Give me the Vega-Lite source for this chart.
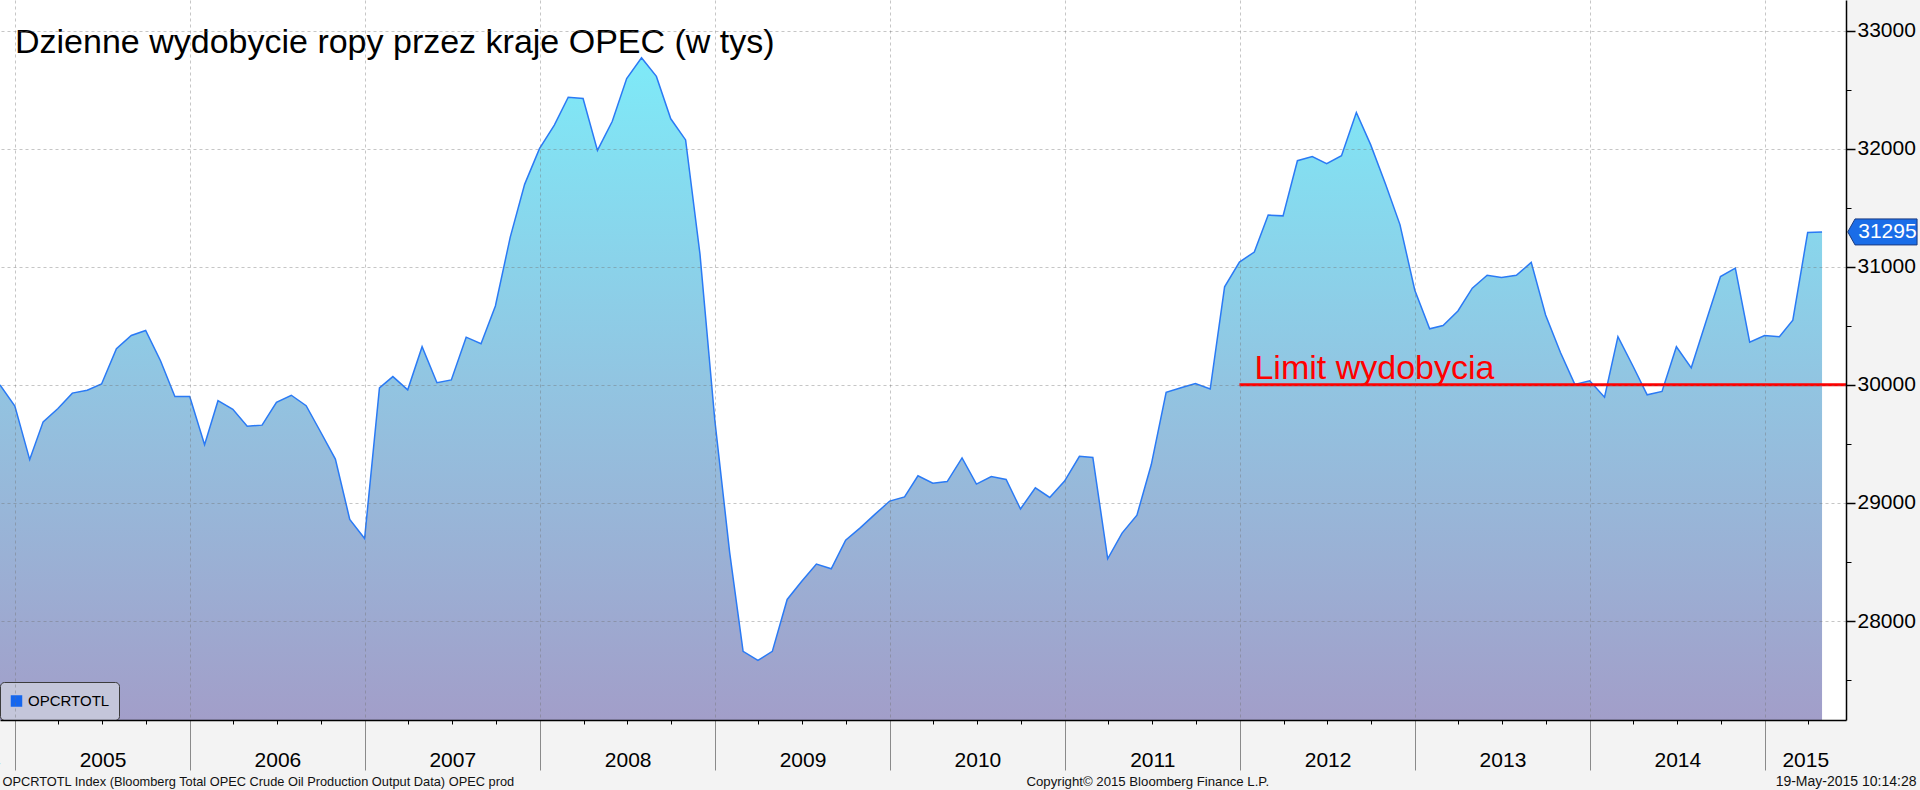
{
  "$schema": "https://vega.github.io/schema/vega-lite/v6.json",
  "width": 1846,
  "height": 720,
  "autosize": {"type": "none"},
  "padding": {"left": 0, "top": 0, "right": 74, "bottom": 70},
  "config": {
    "background": "#f3f3f3",
    "view": {"fill": "white", "stroke": null},
    "font": "Liberation Sans"
  },
  "title": {
    "text": "Dzienne wydobycie ropy przez kraje OPEC (w tys)",
    "anchor": "start",
    "frame": "group",
    "orient": "top",
    "offset": 0,
    "baseline": "alphabetic",
    "dx": 15,
    "dy": 87,
    "font": "Liberation Sans",
    "fontSize": 34,
    "fontWeight": "normal",
    "color": "black"
  },
  "datasets": {
    "opec": [
      {"date": "2004-11-30", "value": 30000},
      {"date": "2004-12-31", "value": 29821},
      {"date": "2005-01-31", "value": 29367},
      {"date": "2005-02-28", "value": 29687},
      {"date": "2005-03-31", "value": 29800},
      {"date": "2005-04-30", "value": 29930},
      {"date": "2005-05-31", "value": 29954},
      {"date": "2005-06-30", "value": 30007},
      {"date": "2005-07-31", "value": 30306},
      {"date": "2005-08-31", "value": 30418},
      {"date": "2005-09-30", "value": 30460},
      {"date": "2005-10-31", "value": 30204},
      {"date": "2005-11-30", "value": 29902},
      {"date": "2005-12-31", "value": 29902},
      {"date": "2006-01-31", "value": 29494},
      {"date": "2006-02-28", "value": 29866},
      {"date": "2006-03-31", "value": 29793},
      {"date": "2006-04-30", "value": 29649},
      {"date": "2006-05-31", "value": 29659},
      {"date": "2006-06-30", "value": 29852},
      {"date": "2006-07-31", "value": 29912},
      {"date": "2006-08-31", "value": 29824},
      {"date": "2006-09-30", "value": 29603},
      {"date": "2006-10-31", "value": 29371},
      {"date": "2006-11-30", "value": 28861},
      {"date": "2006-12-31", "value": 28699},
      {"date": "2007-01-31", "value": 29975},
      {"date": "2007-02-28", "value": 30070},
      {"date": "2007-03-31", "value": 29958},
      {"date": "2007-04-30", "value": 30323},
      {"date": "2007-05-31", "value": 30018},
      {"date": "2007-06-30", "value": 30042},
      {"date": "2007-07-31", "value": 30404},
      {"date": "2007-08-31", "value": 30348},
      {"date": "2007-09-30", "value": 30668},
      {"date": "2007-10-31", "value": 31251},
      {"date": "2007-11-30", "value": 31698},
      {"date": "2007-12-31", "value": 32000},
      {"date": "2008-01-31", "value": 32200},
      {"date": "2008-02-29", "value": 32436},
      {"date": "2008-03-31", "value": 32425},
      {"date": "2008-04-30", "value": 31986},
      {"date": "2008-05-31", "value": 32232},
      {"date": "2008-06-30", "value": 32594},
      {"date": "2008-07-31", "value": 32770},
      {"date": "2008-08-31", "value": 32612},
      {"date": "2008-09-30", "value": 32253},
      {"date": "2008-10-31", "value": 32074},
      {"date": "2008-11-30", "value": 31107},
      {"date": "2008-12-31", "value": 29700},
      {"date": "2009-01-31", "value": 28580},
      {"date": "2009-02-28", "value": 27743},
      {"date": "2009-03-31", "value": 27666},
      {"date": "2009-04-30", "value": 27743},
      {"date": "2009-05-31", "value": 28183},
      {"date": "2009-06-30", "value": 28334},
      {"date": "2009-07-31", "value": 28482},
      {"date": "2009-08-31", "value": 28443},
      {"date": "2009-09-30", "value": 28685},
      {"date": "2009-10-31", "value": 28791},
      {"date": "2009-11-30", "value": 28903},
      {"date": "2009-12-31", "value": 29016},
      {"date": "2010-01-31", "value": 29051},
      {"date": "2010-02-28", "value": 29230},
      {"date": "2010-03-31", "value": 29167},
      {"date": "2010-04-30", "value": 29181},
      {"date": "2010-05-31", "value": 29381},
      {"date": "2010-06-30", "value": 29160},
      {"date": "2010-07-31", "value": 29223},
      {"date": "2010-08-31", "value": 29199},
      {"date": "2010-09-30", "value": 28949},
      {"date": "2010-10-31", "value": 29128},
      {"date": "2010-11-30", "value": 29047},
      {"date": "2010-12-31", "value": 29185},
      {"date": "2011-01-31", "value": 29395},
      {"date": "2011-02-28", "value": 29385},
      {"date": "2011-03-31", "value": 28527},
      {"date": "2011-04-30", "value": 28745},
      {"date": "2011-05-31", "value": 28896},
      {"date": "2011-06-30", "value": 29325},
      {"date": "2011-07-31", "value": 29937},
      {"date": "2011-08-31", "value": 29975},
      {"date": "2011-09-30", "value": 30011},
      {"date": "2011-10-31", "value": 29965},
      {"date": "2011-11-30", "value": 30830},
      {"date": "2011-12-31", "value": 31040},
      {"date": "2012-01-31", "value": 31125},
      {"date": "2012-02-29", "value": 31438},
      {"date": "2012-03-31", "value": 31431},
      {"date": "2012-04-30", "value": 31898},
      {"date": "2012-05-31", "value": 31933},
      {"date": "2012-06-30", "value": 31873},
      {"date": "2012-07-31", "value": 31940},
      {"date": "2012-08-31", "value": 32306},
      {"date": "2012-09-30", "value": 32032},
      {"date": "2012-10-31", "value": 31698},
      {"date": "2012-11-30", "value": 31357},
      {"date": "2012-12-31", "value": 30801},
      {"date": "2013-01-31", "value": 30475},
      {"date": "2013-02-28", "value": 30503},
      {"date": "2013-03-31", "value": 30626},
      {"date": "2013-04-30", "value": 30819},
      {"date": "2013-05-31", "value": 30928},
      {"date": "2013-06-30", "value": 30910},
      {"date": "2013-07-31", "value": 30928},
      {"date": "2013-08-31", "value": 31037},
      {"date": "2013-09-30", "value": 30591},
      {"date": "2013-10-31", "value": 30274},
      {"date": "2013-11-30", "value": 30004},
      {"date": "2013-12-31", "value": 30035},
      {"date": "2014-01-31", "value": 29895},
      {"date": "2014-02-28", "value": 30408},
      {"date": "2014-03-31", "value": 30162},
      {"date": "2014-04-30", "value": 29916},
      {"date": "2014-05-31", "value": 29944},
      {"date": "2014-06-30", "value": 30323},
      {"date": "2014-07-31", "value": 30144},
      {"date": "2014-08-31", "value": 30538},
      {"date": "2014-09-30", "value": 30917},
      {"date": "2014-10-31", "value": 30988},
      {"date": "2014-11-30", "value": 30362},
      {"date": "2014-12-31", "value": 30418},
      {"date": "2015-01-31", "value": 30408},
      {"date": "2015-02-28", "value": 30548},
      {"date": "2015-03-31", "value": 31290},
      {"date": "2015-04-30", "value": 31295}
    ],
    "limit": [
      {"from": "2011-12-31", "to": "2015-06-19", "limit": 30000, "label": "Limit wydobycia"}
    ],
    "series": [
      {"series": "OPCRTOTL", "date": "2015-04-30", "value": 31295}
    ]
  },
  "resolve": {"axis": {"x": "independent", "y": "independent"}},
  "layer": [
    {
      "data": {"name": "opec"},
      "mark": {
        "type": "area",
        "line": false,
        "fill": {
          "gradient": "linear",
          "x1": 0, "y1": 0, "x2": 0, "y2": 1,
          "stops": [
            {"offset": 0, "color": "#7eeaf8"},
            {"offset": 0.5, "color": "#92c4e1"},
            {"offset": 1, "color": "#a29ec9"}
          ]
        }
      },
      "encoding": {
        "x": {
          "field": "date",
          "type": "temporal",
          "scale": {
            "type": "utc",
            "domain": [
              {"year": 2004, "month": 11, "date": 30, "utc": true},
              {"year": 2015, "month": 6, "date": 19, "utc": true}
            ]
          },
          "axis": {
            "orient": "bottom",
            "zindex": 1,
            "values": [
              {"year": 2005, "month": 1, "date": 1, "utc": true},
              {"year": 2006, "month": 1, "date": 1, "utc": true},
              {"year": 2007, "month": 1, "date": 1, "utc": true},
              {"year": 2008, "month": 1, "date": 1, "utc": true},
              {"year": 2009, "month": 1, "date": 1, "utc": true},
              {"year": 2010, "month": 1, "date": 1, "utc": true},
              {"year": 2011, "month": 1, "date": 1, "utc": true},
              {"year": 2012, "month": 1, "date": 1, "utc": true},
              {"year": 2013, "month": 1, "date": 1, "utc": true},
              {"year": 2014, "month": 1, "date": 1, "utc": true},
              {"year": 2015, "month": 1, "date": 1, "utc": true}
            ],
            "labels": false,
            "ticks": true,
            "tickSize": 50,
            "tickColor": "#8a8a8a",
            "tickWidth": 1,
            "domain": true,
            "domainColor": "black",
            "domainWidth": 1.5,
            "grid": true,
            "gridColor": "#707070",
            "gridOpacity": 0.4,
            "gridDash": [3, 3],
            "gridWidth": 1,
            "title": "OPCRTOTL Index (Bloomberg Total OPEC Crude Oil Production Output Data) OPEC prod",
            "titleX": 2,
            "titleY": 65,
            "titleAlign": "left",
            "titleBaseline": "alphabetic",
            "titleAngle": 0,
            "titleFont": "Liberation Sans",
            "titleFontSize": 12.8,
            "titleFontWeight": "normal",
            "titleColor": "#111111"
          }
        },
        "y": {
          "field": "value",
          "type": "quantitative",
          "scale": {"domain": [27162, 33259], "zero": false, "nice": false},
          "axis": {
            "orient": "right",
            "zindex": 1,
            "values": [28000, 29000, 30000, 31000, 32000, 33000],
            "format": "d",
            "title": null,
            "grid": true,
            "gridColor": "#707070",
            "gridOpacity": 0.4,
            "gridDash": [3, 3],
            "gridWidth": 1,
            "ticks": true,
            "tickSize": 9,
            "tickColor": "black",
            "tickWidth": 1.5,
            "domain": true,
            "domainColor": "black",
            "domainWidth": 1.5,
            "labelPadding": 2,
            "labelFont": "Liberation Sans",
            "labelFontSize": 21,
            "labelColor": "black",
            "labelBaseline": "middle",
            "labelFlush": false,
            "labelOverlap": false
          }
        },
        "y2": {"datum": 27162}
      }
    },
    {
      "data": {"name": "opec"},
      "mark": {"type": "line", "stroke": "#2a7af5", "strokeWidth": 1.5},
      "encoding": {
        "x": {
          "field": "date",
          "type": "temporal",
          "axis": {
            "orient": "bottom",
            "values": [
              {"year": 2005, "month": 7, "date": 2, "utc": true},
              {"year": 2006, "month": 7, "date": 2, "utc": true},
              {"year": 2007, "month": 7, "date": 2, "utc": true},
              {"year": 2008, "month": 7, "date": 2, "utc": true},
              {"year": 2009, "month": 7, "date": 2, "utc": true},
              {"year": 2010, "month": 7, "date": 2, "utc": true},
              {"year": 2011, "month": 7, "date": 2, "utc": true},
              {"year": 2012, "month": 7, "date": 2, "utc": true},
              {"year": 2013, "month": 7, "date": 2, "utc": true},
              {"year": 2014, "month": 7, "date": 2, "utc": true},
              {"year": 2015, "month": 3, "date": 26, "utc": true}
            ],
            "format": "%Y",
            "ticks": true,
            "tickSize": 0,
            "domain": false,
            "grid": false,
            "labelFont": "Liberation Sans",
            "labelFontSize": 21,
            "labelColor": "black",
            "labelPadding": 46,
            "labelBaseline": "alphabetic",
            "labelFlush": false,
            "labelOverlap": false,
            "labelBound": false,
            "title": "Copyright© 2015 Bloomberg Finance L.P.",
            "titleX": 1026,
            "titleY": 65,
            "titleAlign": "left",
            "titleBaseline": "alphabetic",
            "titleAngle": 0,
            "titleFont": "Liberation Sans",
            "titleFontSize": 13.2,
            "titleFontWeight": "normal",
            "titleColor": "#111111"
          }
        },
        "y": {
          "field": "value",
          "type": "quantitative",
          "axis": {
            "orient": "right",
            "values": [27500, 28500, 29500, 30500, 31500, 32500],
            "title": null,
            "labels": false,
            "domain": false,
            "grid": false,
            "ticks": true,
            "tickSize": 5,
            "tickColor": "black",
            "tickWidth": 1
          }
        }
      }
    },
    {
      "data": {"name": "limit"},
      "mark": {"type": "rule", "stroke": "#ff0000", "strokeWidth": 3},
      "encoding": {
        "x": {
          "field": "from",
          "type": "temporal",
          "axis": {
            "orient": "bottom",
            "values": [
              {"year": 2005, "month": 4, "date": 1, "utc": true},
              {"year": 2005, "month": 7, "date": 1, "utc": true},
              {"year": 2005, "month": 10, "date": 1, "utc": true},
              {"year": 2006, "month": 4, "date": 1, "utc": true},
              {"year": 2006, "month": 7, "date": 1, "utc": true},
              {"year": 2006, "month": 10, "date": 1, "utc": true},
              {"year": 2007, "month": 4, "date": 1, "utc": true},
              {"year": 2007, "month": 7, "date": 1, "utc": true},
              {"year": 2007, "month": 10, "date": 1, "utc": true},
              {"year": 2008, "month": 4, "date": 1, "utc": true},
              {"year": 2008, "month": 7, "date": 1, "utc": true},
              {"year": 2008, "month": 10, "date": 1, "utc": true},
              {"year": 2009, "month": 4, "date": 1, "utc": true},
              {"year": 2009, "month": 7, "date": 1, "utc": true},
              {"year": 2009, "month": 10, "date": 1, "utc": true},
              {"year": 2010, "month": 4, "date": 1, "utc": true},
              {"year": 2010, "month": 7, "date": 1, "utc": true},
              {"year": 2010, "month": 10, "date": 1, "utc": true},
              {"year": 2011, "month": 4, "date": 1, "utc": true},
              {"year": 2011, "month": 7, "date": 1, "utc": true},
              {"year": 2011, "month": 10, "date": 1, "utc": true},
              {"year": 2012, "month": 4, "date": 1, "utc": true},
              {"year": 2012, "month": 7, "date": 1, "utc": true},
              {"year": 2012, "month": 10, "date": 1, "utc": true},
              {"year": 2013, "month": 4, "date": 1, "utc": true},
              {"year": 2013, "month": 7, "date": 1, "utc": true},
              {"year": 2013, "month": 10, "date": 1, "utc": true},
              {"year": 2014, "month": 4, "date": 1, "utc": true},
              {"year": 2014, "month": 7, "date": 1, "utc": true},
              {"year": 2014, "month": 10, "date": 1, "utc": true},
              {"year": 2015, "month": 4, "date": 1, "utc": true}
            ],
            "labels": false,
            "domain": false,
            "grid": false,
            "ticks": true,
            "tickSize": 4,
            "tickColor": "black",
            "tickWidth": 1,
            "title": "19-May-2015 10:14:28",
            "titleX": 1916,
            "titleY": 65,
            "titleAlign": "right",
            "titleBaseline": "alphabetic",
            "titleAngle": 0,
            "titleFont": "Liberation Sans",
            "titleFontSize": 14,
            "titleFontWeight": "normal",
            "titleColor": "#111111"
          }
        },
        "x2": {"field": "to"},
        "y": {"field": "limit", "type": "quantitative", "axis": null}
      }
    },
    {
      "data": {"name": "limit"},
      "mark": {
        "type": "text",
        "align": "left",
        "baseline": "alphabetic",
        "dx": 15,
        "dy": -6,
        "font": "Liberation Sans",
        "fontSize": 34,
        "color": "#ff0000"
      },
      "encoding": {
        "x": {
          "field": "from",
          "type": "temporal",
          "axis": {
            "orient": "bottom",
            "values": [{"year": 2004, "month": 11, "date": 30, "utc": true}],
            "format": "%Y",
            "ticks": true,
            "tickSize": 0,
            "domain": false,
            "grid": false,
            "labelAlign": "right",
            "labelDx": 6,
            "labelFont": "Liberation Sans",
            "labelFontSize": 21,
            "labelColor": "black",
            "labelPadding": 46,
            "labelBaseline": "alphabetic",
            "labelFlush": false,
            "labelOverlap": false,
            "labelBound": false,
            "title": null
          }
        },
        "y": {"field": "limit", "type": "quantitative", "axis": null},
        "text": {"field": "label"}
      }
    },
    {
      "data": {"name": "opec"},
      "transform": [{"filter": "year(datum.date) == 2015 && month(datum.date) == 3"}],
      "mark": {
        "type": "point",
        "shape": "M-1,0L-0.79,-0.375L1,-0.375L1,0.375L-0.79,0.375Z",
        "size": 4802,
        "filled": true,
        "fill": "#1a6de8",
        "stroke": "#1a3a80",
        "strokeWidth": 1,
        "opacity": 1
      },
      "encoding": {
        "x": {"datum": {"year": 2015, "month": 9, "date": 3, "utc": true}, "type": "temporal", "axis": null},
        "y": {"field": "value", "type": "quantitative", "axis": null}
      }
    },
    {
      "data": {"name": "opec"},
      "transform": [{"filter": "year(datum.date) == 2015 && month(datum.date) == 3"}],
      "mark": {
        "type": "text",
        "align": "center",
        "baseline": "middle",
        "dx": 5,
        "font": "Liberation Sans",
        "fontSize": 21,
        "color": "white"
      },
      "encoding": {
        "x": {"datum": {"year": 2015, "month": 9, "date": 3, "utc": true}, "type": "temporal", "axis": null},
        "y": {"field": "value", "type": "quantitative", "axis": null},
        "text": {"field": "value", "type": "quantitative", "format": "d"}
      }
    },
    {
      "data": {"name": "series"},
      "mark": {"type": "point", "shape": "square", "filled": true, "opacity": 0},
      "encoding": {
        "x": {"field": "date", "type": "temporal", "axis": null},
        "y": {"field": "value", "type": "quantitative", "axis": null},
        "fill": {
          "field": "series",
          "type": "nominal",
          "scale": {"range": ["#1566ee"]},
          "legend": {
            "orient": "bottom-left",
            "offset": 0,
            "title": null,
            "padding": 9,
            "fillColor": "#c4c6da",
            "strokeColor": "#3c3c3c",
            "cornerRadius": 4,
            "symbolType": "square",
            "symbolSize": 132,
            "symbolStrokeWidth": 0,
            "symbolOpacity": 1,
            "labelFont": "Liberation Sans",
            "labelFontSize": 15,
            "labelColor": "black",
            "labelOffset": 4,
            "clipHeight": 20
          }
        }
      }
    }
  ]
}
